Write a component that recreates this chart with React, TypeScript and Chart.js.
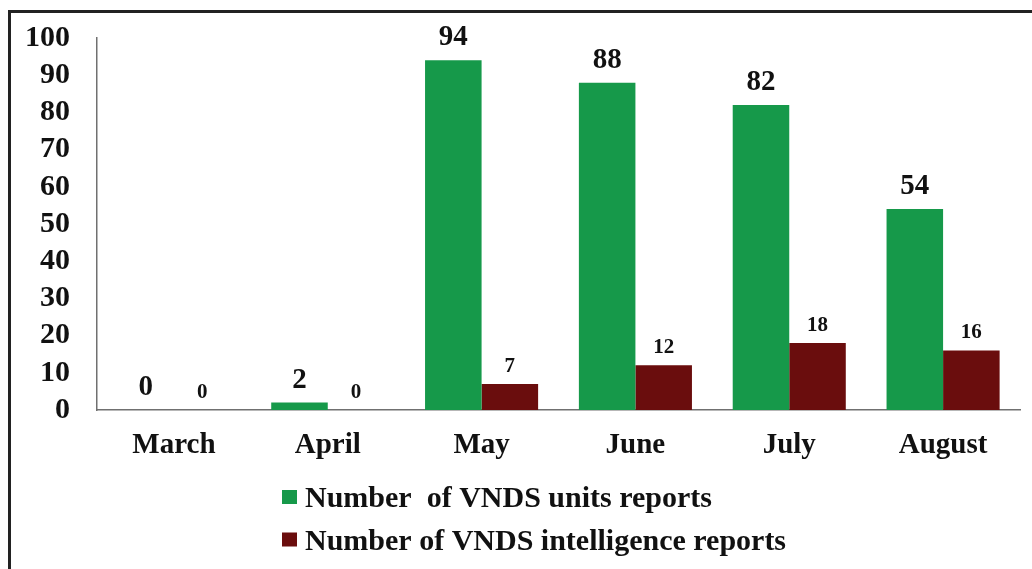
import React, { useEffect, useRef } from "react";
import { Chart, registerables } from "chart.js";

Chart.register(...registerables);

const months = ["March", "April", "May", "June", "July", "August"];
const unitReports = [0, 2, 94, 88, 82, 54];
const intelReports = [0, 0, 7, 12, 18, 16];
const seriesNames = ["Number  of VNDS units reports", "Number of VNDS intelligence reports"];
const seriesColors = ["#16994a", "#6a0d0d"];
const yTicksMax = 100;
const yTicksStep = 10;

const FONT = "'Liberation Serif', 'Times New Roman', serif";

const valueLabels = {
  id: "valueLabels",
  afterDatasetsDraw(chart: any) {
    const ctx = chart.ctx;
    ctx.save();
    ctx.fillStyle = "#111";
    ctx.textAlign = "center";
    ctx.textBaseline = "alphabetic";
    chart.data.datasets.forEach((ds: any, i: number) => {
      const meta = chart.getDatasetMeta(i);
      ctx.font = i === 0 ? `bold 29px ${FONT}` : `bold 21px ${FONT}`;
      const gap = i === 0 ? 15 : 12;
      meta.data.forEach((el: any, j: number) => {
        ctx.fillText(String(ds.data[j]), el.x, el.y - gap);
      });
    });
    ctx.restore();
  },
};

const stackedLegend = {
  id: "stackedLegend",
  afterDraw(chart: any) {
    const ctx = chart.ctx;
    const base = chart.chartArea.bottom;
    ctx.save();
    ctx.font = `bold 30px ${FONT}`;
    ctx.textBaseline = "alphabetic";
    ctx.textAlign = "left";
    chart.data.datasets.forEach((ds: any, i: number) => {
      const rowBase = base + 97 + i * 42.5;
      ctx.fillStyle = ds.backgroundColor;
      ctx.fillRect(282, rowBase - 17, 15, 14);
      ctx.fillStyle = "#111";
      ctx.fillText(ds.label, 305, rowBase);
    });
    ctx.restore();
  },
};

export default function App() {
  const ref = useRef<HTMLCanvasElement | null>(null);
  useEffect(() => {
    if (!ref.current) return;
    const chart = new Chart(ref.current, {
      type: "bar",
      data: {
        labels: months,
        datasets: [
          { label: seriesNames[0], data: unitReports, backgroundColor: seriesColors[0] },
          { label: seriesNames[1], data: intelReports, backgroundColor: seriesColors[1] },
        ],
      },
      options: {
        responsive: false,
        animation: false,
        categoryPercentage: 0.735,
        barPercentage: 1.0,
        layout: { padding: { top: 38, left: 0, right: 12, bottom: 99 } },
        plugins: { legend: { display: false }, tooltip: { enabled: false } },
        scales: {
          x: {
            grid: { display: false, drawTicks: false },
            border: { display: true, color: "#707070", width: 1.5 },
            ticks: { color: "#111", font: { family: FONT, size: 29, weight: "bold" }, padding: 18 },
            afterFit: (s: any) => { s.height = 60; s.paddingLeft = 0; s.paddingRight = 0; },
          },
          y: {
            min: 0,
            max: yTicksMax,
            grid: { display: false, drawTicks: false },
            border: { display: true, color: "#707070", width: 1.5 },
            ticks: {
              stepSize: yTicksStep,
              autoSkip: false,
              color: "#111",
              font: { family: FONT, size: 30, weight: "bold" },
              padding: 27,
            },
            afterFit: (s: any) => { s.width = 97; s.paddingTop = 0; s.paddingBottom = 0; },
          },
        },
      } as any,
      plugins: [valueLabels, stackedLegend],
    });
    return () => chart.destroy();
  }, []);
  return (
    <div style={{ position: "fixed", inset: 0, overflow: "hidden", background: "#fff" }}>
      <div
        style={{
          position: "absolute",
          left: 8,
          top: 10,
          width: 1100,
          height: 700,
          border: "3px solid #222",
          boxSizing: "border-box",
        }}
      />
      <canvas ref={ref} width={1032} height={569} style={{ position: "absolute", left: 0, top: 0 }} />
    </div>
  );
}
